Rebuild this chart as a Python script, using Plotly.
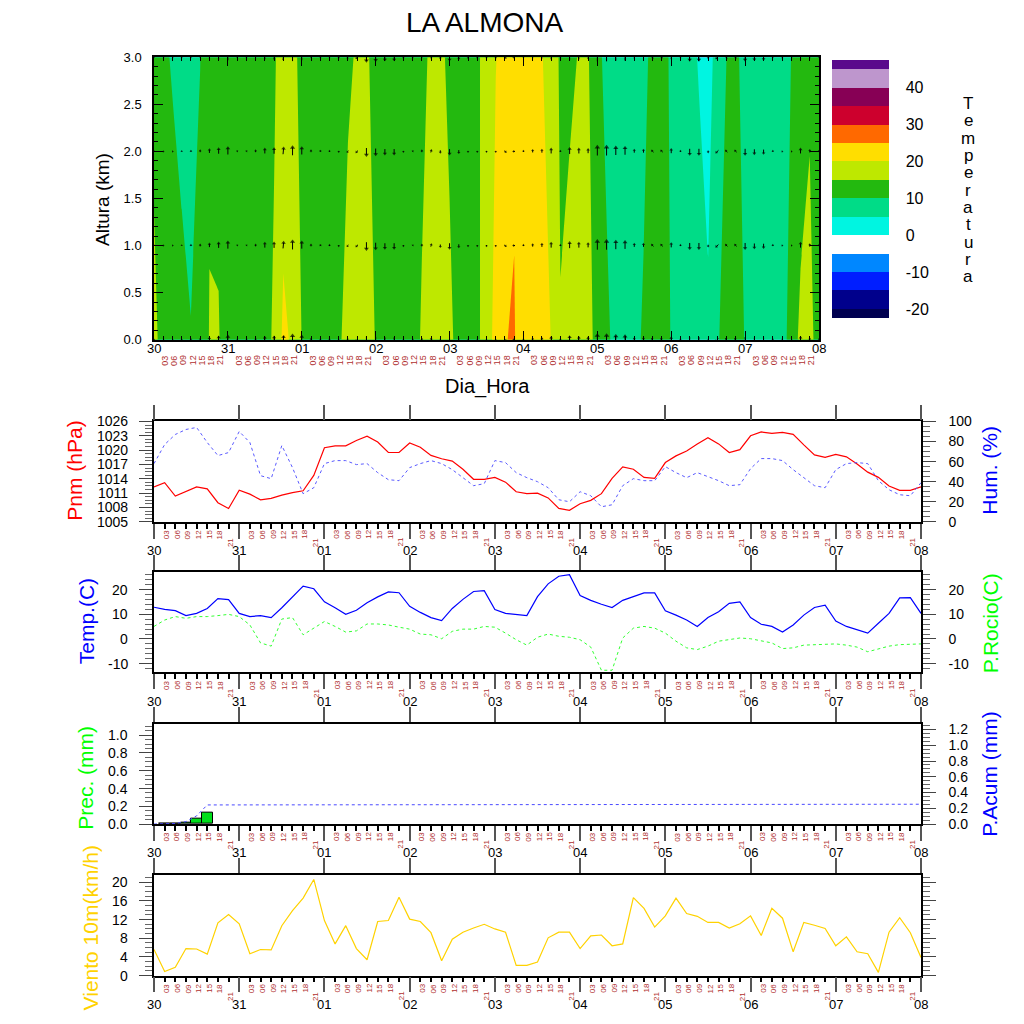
import numpy as np
import plotly.graph_objects as go

W = 1024
FONT = "Liberation Sans"

# time axis: every 3 h from day 30 00h to day 08 00h
hours = list(range(0, 217, 3))
day_labels = ["30", "31", "01", "02", "03", "04", "05", "06", "07", "08"]
hour_labels = ["03", "06", "09", "12", "15", "18", "21"]

# temperature (C) at the ground and at 3 km, read from the cross-section
heights = [0, 3]
temp_sfc = [15.5, 14.25, 13, 11.5, 10.2, 12, 15.2, 15.3, 12.3, 12,
            11.5, 12, 14, 15.43, 21.1, 19.27, 14.9, 13, 12, 13,
            14.5, 16.17, 17, 16, 14.89, 13, 12, 12.5, 14.2, 15.2,
            16.5, 17, 15.5, 14.25, 13, 14.5, 16.17, 22.55, 24.79, 25.5,
            20.5, 21.5, 21, 19.95, 15.16, 16, 16.5, 15.8, 14.2, 11.5,
            7.75, 8, 9, 10.43, 11.5, 11, 9.89, 8.5, 8, 7.5,
            5.5, 9.5, 12, 11.5, 9.83, 8.5, 8, 8.5, 7.33, 12.67,
            16, 16.5, 12.75]
temp_top = [14.4, 11, 9.5, 8.26, 7.8, 9.9, 14.4, 13.57, 12, 11.5,
            11, 12, 13.5, 14.65, 16.4, 16, 14, 12.5, 11.5, 12.5,
            13.5, 14.5, 15.33, 15.3, 14.3, 12.5, 11.5, 12, 13.5, 14.5,
            15.33, 15.5, 14.5, 13.5, 12.5, 14.5, 16.2, 19.8, 22, 23.83,
            22.5, 21, 20.3, 17.3, 14.43, 14.5, 15.125, 15.3, 12, 8,
            7, 7, 8, 9, 11, 10.5, 9.79, 8, 6.5, 4.625,
            3.78, 6.22, 10.05, 11, 8.14, 7, 6.5, 7, 8.5, 10.05,
            12, 14.19, 13]

# wind vectors drawn at these heights (km)
vec_levels = [0, 1, 2, 3]
wind_u = [0, 0.5, 0.5, 0, 0, 0, 0, 0, 0, 0.5,
          0.5, 0, 0, 0, 0.5, 0, 0, 0, 0.5, 0,
          0, -1, -1.5, 0, 0, 0, 0, 0, 0.5, 0,
          0.5, 0, 0, 0, 0, 0, 0, 0, 1.5, -1.5,
          0, 0, 0, 0, 0, 0, 0, 0, 0, 0,
          0, 0, 0, 0, -1.5, -1.5, 0, 0, 0, 0,
          0, -2, -1.5, -1.5, 0, 0, 0, 0, 0.5, 0.5,
          0, 0, 0]
wind_v = [0.5, 0, 0, 0.5, 1, 1.5, 3, 4.5, 6, 0.5,
          0.5, 1.5, 4, 4.5, 5.5, 7.5, 6, 1.5, 1, 1,
          -1, -1, -1.5, -6.5, -5.5, -4.5, -4.5, -1, 0.5, 1.5,
          2, -2, -4.5, -2.5, -1, -1, -1, -1, -1, 0,
          1, 2, 2.5, 4, 1, 5, 4, 3.5, 8, 8,
          7, 6.5, 2.5, 2.5, 1.5, 1.5, 3.5, 1, -5, -5,
          -1.5, -2, 1.5, 1.5, -5, -4, -3.5, 1, 0, 0,
          4, 2, 1]

pnm = [1012.3, 1013.2, 1010.4, 1011.4, 1012.3, 1011.9, 1009.0, 1007.8, 1011.6, 1010.8,
       1009.6, 1009.9, 1010.6, 1011.1, 1011.5, 1014.7, 1020.5, 1020.9, 1020.9, 1022.0,
       1022.9, 1021.7, 1019.5, 1019.5, 1021.5, 1020.6, 1018.9, 1018.2, 1017.7, 1016.0,
       1013.9, 1013.9, 1014.3, 1013.3, 1011.3, 1010.9, 1011.0, 1010.0, 1007.8, 1007.4,
       1008.8, 1009.5, 1010.9, 1014.1, 1016.5, 1016.0, 1014.3, 1014.1, 1017.4, 1018.8,
       1019.8, 1021.3, 1022.6, 1021.3, 1019.5, 1020.1, 1023.0, 1023.8, 1023.5, 1023.7,
       1023.3, 1021.1, 1019.0, 1018.5, 1019.1, 1018.6, 1017.1, 1015.4, 1014.3, 1012.5,
       1011.6, 1011.6, 1012.3]
hum = [58, 77, 87, 92, 94, 79, 66, 69, 90, 79,
       46, 43, 76, 54, 28, 34, 58, 61, 61, 57,
       58, 49, 42, 41, 54, 58, 61, 58, 52, 44,
       36, 38, 61, 59, 49, 44, 40, 34, 22, 20,
       30, 26, 15, 17, 36, 43, 41, 41, 55, 49,
       44, 49, 45, 41, 36, 37, 53, 63, 63, 61,
       52, 44, 36, 34, 52, 58, 59, 58, 41, 32,
       27, 26, 39]
temp2m = [12.9, 12.0, 11.5, 9.5, 10.4, 12.4, 16.4, 16.0, 10.4, 9.1,
          9.5, 8.7, 12.7, 17.1, 21.5, 20.4, 15.1, 12.7, 10.0, 11.7,
          14.7, 17.1, 19.1, 18.8, 13.3, 10.8, 8.7, 7.5, 12.4, 16.1,
          19.3, 19.6, 12.0, 10.4, 10.0, 9.5, 17.2, 22.4, 25.5, 26.1,
          17.7, 15.7, 14.1, 12.8, 15.7, 17.2, 18.7, 18.7, 11.5, 9.7,
          7.7, 5.1, 8.7, 11.1, 14.5, 15.1, 8.7, 6.0, 5.1, 2.8,
          5.7, 9.7, 12.8, 13.7, 7.3, 5.1, 3.7, 2.4, 6.4, 10.4,
          16.7, 16.8, 10.4]
rocio = [5.1, 7.7, 9.1, 8.4, 9.1, 9.1, 9.5, 10.0, 9.1, 5.7,
         -1.6, -2.9, 8.1, 8.7, 1.7, 4.4, 7.1, 5.1, 2.8, 3.3,
         6.1, 6.1, 5.7, 4.8, 4.0, 2.0, 1.7, 0.1, 3.1, 4.0,
         4.0, 5.1, 4.8, 2.4, -0.3, -2.5, 0.7, 2.0, 1.1, 0.7,
         -0.3, -3.3, -12.7, -12.7, 0.4, 4.4, 5.1, 4.4, 2.4, -0.9,
         -3.6, -4.3, -2.9, -0.9, -0.3, 0.4, 0.1, -0.7, -1.6, -3.9,
         -3.6, -2.5, -2.3, -2.0, -2.0, -2.5, -3.3, -5.2, -3.9, -2.9,
         -2.3, -2.0, -2.0]
prec = [0, 0.002, 0.005, 0.02, 0.065, 0.13, 0, 0, 0, 0,
        0, 0, 0, 0, 0, 0, 0, 0, 0, 0,
        0, 0, 0, 0, 0, 0, 0, 0, 0, 0,
        0, 0, 0, 0, 0, 0, 0, 0, 0, 0,
        0, 0, 0, 0, 0, 0, 0, 0, 0, 0,
        0, 0, 0, 0, 0, 0, 0, 0, 0, 0,
        0, 0, 0, 0, 0, 0, 0, 0, 0, 0,
        0, 0, 0]
prec_acum = [0, 0.002, 0.007, 0.027, 0.092, 0.215, 0.215, 0.215, 0.215, 0.215,
             0.215, 0.215, 0.215, 0.215, 0.215, 0.215, 0.216, 0.216, 0.216, 0.216,
             0.216, 0.216, 0.216, 0.216, 0.216, 0.217, 0.217, 0.217, 0.217, 0.217,
             0.217, 0.217, 0.217, 0.218, 0.218, 0.218, 0.218, 0.218, 0.218, 0.218,
             0.218, 0.219, 0.219, 0.219, 0.219, 0.219, 0.219, 0.219, 0.22, 0.22,
             0.22, 0.22, 0.22, 0.22, 0.22, 0.22, 0.221, 0.221, 0.221, 0.221,
             0.221, 0.221, 0.222, 0.222, 0.222, 0.222, 0.222, 0.222, 0.223, 0.223,
             0.223, 0.223, 0.223]
viento = [5.6, 0.9, 1.8, 5.8, 5.7, 4.6, 11.3, 13.1, 11.1, 4.7,
          5.6, 5.5, 10.7, 13.9, 16.6, 20.6, 11.8, 6.8, 10.7, 5.8,
          3.4, 11.6, 11.8, 16.8, 12.1, 11.6, 9.2, 3.2, 7.8, 9.3,
          10.2, 11.0, 10.0, 9.3, 2.2, 2.2, 2.9, 8.1, 9.3, 9.3,
          5.8, 8.5, 8.7, 6.4, 6.8, 16.7, 14.4, 10.4, 12.8, 16.6,
          13.3, 12.7, 11.4, 11.4, 10.2, 11.1, 12.8, 8.6, 14.4, 12.3,
          5.1, 11.4, 10.8, 10.1, 6.4, 8.3, 5.1, 4.7, 0.7, 9.3,
          12.4, 9.2, 3.9]

temp_colors = ["#000050", "#00008c", "#001eff", "#0087ff", "#ffffff",
               "#00f5e1", "#00dc87", "#23b90f", "#bee800", "#ffde00",
               "#ff6900", "#cd002d", "#870055", "#be96cd", "#5a0a8c"]
cbar_ticks = [-20, -10, 0, 10, 20, 30, 40]
temp_ticks = [-10, 0, 10, 20]

# left-axis tick labels of the four lower panels
pnm_ticks = [1005, 1008, 1011, 1014, 1017, 1020, 1023, 1026]
prec_ticks = ["0.0", "0.2", "0.4", "0.6", "0.8", "1.0"]
wind_ticks = [0, 4, 8, 12, 16, 20]

# panel boxes in pixels: left, right, top, bottom
P1 = (154, 819, 50, 337)
LOW = [(154, 921, 420, 522), (154, 921, 573, 675),
       (154, 921, 727, 829), (154, 921, 881, 983)]


def fx(p):
    return p / W


def fy(p):
    return 1 - p / W


def hyphen(vals):
    # NCL prints a plain hyphen for negatives
    return [str(v) for v in vals]


fig = go.Figure()

# ---- cross-section -------------------------------------------------------
cscale = [[i / (len(temp_colors) - 1), c] for i, c in enumerate(temp_colors)]
fig.add_trace(go.Contour(
    x=hours, y=heights, z=[temp_sfc, temp_top],
    autocontour=False,
    contours=dict(start=-20, end=45, size=5, coloring="fill", showlines=False),
    line=dict(width=0, smoothing=0),
    colorscale=cscale,
    colorbar=dict(x=fx(832), xanchor="left", y=fy(184), yanchor="middle",
                  len=262 / W, thickness=57, xpad=0, ypad=0, outlinewidth=0,
                  tickmode="array", tickvals=cbar_ticks, ticktext=hyphen(cbar_ticks),
                  ticks="outside", ticklen=14, tickcolor="rgba(0,0,0,0)",
                  tickfont=dict(family=FONT, size=16, color="black")),
    xaxis="x", yaxis="y", hoverinfo="skip"))

# wind arrows, centred on each grid point
sx = (P1[1] - P1[0]) / 216.0
sy = (P1[3] - P1[2]) / 3.0
vscale = 1.05
shaft_x, shaft_y, head_x, head_y, head_ang, head_size = [], [], [], [], [], []
for z in vec_levels:
    for t, u, v in zip(hours, wind_u, wind_v):
        du = 0.5 * u * vscale / sx
        dv = 0.5 * v * vscale / sy
        shaft_x += [t - du, t + du, None]
        shaft_y += [z - dv, z + dv, None]
        head_x.append(t + du)
        head_y.append(z + dv)
        spd = float(np.hypot(u, v))
        head_ang.append(float(np.degrees(np.arctan2(u, v))))
        head_size.append(2.0 + 0.35 * spd)
fig.add_trace(go.Scatter(x=shaft_x, y=shaft_y, mode="lines",
                         line=dict(color="black", width=1),
                         xaxis="x", yaxis="y", hoverinfo="skip"))
fig.add_trace(go.Scatter(x=head_x, y=head_y, mode="markers",
                         marker=dict(symbol="triangle-up", size=head_size,
                                     angle=head_ang, color="black", line=dict(width=0)),
                         xaxis="x", yaxis="y", hoverinfo="skip"))

# ---- meteogram panels ------------------------------------------------------
dash = "3px,3px"
fig.add_trace(go.Scatter(x=hours, y=pnm, mode="lines", line=dict(color="#ff0000", width=1.2),
                         xaxis="x2", yaxis="y2"))
fig.add_trace(go.Scatter(x=hours, y=hum, mode="lines",
                         line=dict(color="#5a5aff", width=1, dash=dash),
                         xaxis="x2", yaxis="y3"))
fig.add_trace(go.Scatter(x=hours, y=temp2m, mode="lines", line=dict(color="#0000ff", width=1.2),
                         xaxis="x3", yaxis="y4"))
fig.add_trace(go.Scatter(x=hours, y=rocio, mode="lines",
                         line=dict(color="#33ff33", width=1, dash=dash),
                         xaxis="x3", yaxis="y5"))
wet = [(t, p) for t, p in zip(hours, prec) if p > 0]
fig.add_trace(go.Bar(x=[t for t, _ in wet], y=[p for _, p in wet], width=3,
                     marker=dict(color="#00e01c", line=dict(color="black", width=1)),
                     xaxis="x4", yaxis="y6"))
fig.add_trace(go.Scatter(x=hours, y=prec_acum, mode="lines",
                         line=dict(color="#4a4aff", width=1, dash=dash),
                         xaxis="x4", yaxis="y6"))
fig.add_trace(go.Scatter(x=[None], y=[None], xaxis="x4", yaxis="y7"))
fig.add_trace(go.Scatter(x=hours, y=viento, mode="lines", line=dict(color="#ffd200", width=1.2),
                         xaxis="x5", yaxis="y8"))

tick_font = dict(family=FONT, size=14, color="black")
day_ticks = list(range(0, 217, 24))

layout = dict(
    width=W, height=W, margin=dict(l=0, r=0, t=0, b=0), autosize=False,
    paper_bgcolor="white", plot_bgcolor="white", showlegend=False,
    bargap=0,
    xaxis=dict(domain=[fx(P1[0]), fx(P1[1])], range=[0, 216], anchor="y",
               tickvals=day_ticks, showticklabels=False, ticks="inside", ticklen=9,
               tickcolor="black", minor=dict(tick0=0, dtick=3, ticks="inside", ticklen=4,
                                             tickcolor="black"),
               showline=True, linecolor="black", linewidth=1.5, mirror="ticks",
               showgrid=False, zeroline=False),
    yaxis=dict(domain=[fy(P1[3]), fy(P1[2])], range=[0, 3], anchor="x",
               dtick=0.5, tickformat=".1f", ticks="inside", ticklen=9, tickcolor="black",
               minor=dict(dtick=0.1, ticks="inside", ticklen=4, tickcolor="black"),
               tickfont=dict(family=FONT, size=13, color="black"), ticklabelstandoff=8,
               showline=True, linecolor="black", linewidth=1.5, mirror="ticks",
               showgrid=False, zeroline=False),
)

low_y = [
    # (left range, dtick, minor, right range, right dtick, right minor, right format)
    ([1005, 1026], 3, 0.75, [0, 100], 20, 5, "d"),
    ([-13.6, 27.2], 10, 2, [-13.6, 27.2], 10, 2, "d"),
    ([0, 1.13], 0.2, 0.05, [0, 1.275], 0.2, 0.05, ".1f"),
    ([0, 21.5], 4, 1, None, None, None, None),
]
yleft = ["y2", "y4", "y6", "y8"]
yright = ["y3", "y5", "y7", None]
for k, (box, spec) in enumerate(zip(LOW, low_y)):
    xn = "x%d" % (k + 2)
    lr, ld, lm, rr, rd, rm, rf = spec
    layout["xaxis%d" % (k + 2)] = dict(
        domain=[fx(box[0]), fx(box[1])], range=[0, 216], anchor=yleft[k],
        tickvals=day_ticks, showticklabels=False, ticks="outside", ticklen=15,
        tickwidth=1.5, tickcolor="#555555",
        minor=dict(tick0=0, dtick=3, ticks="outside", ticklen=5, tickcolor="black"),
        showline=True, linecolor="black", linewidth=1.5,
        showgrid=False, zeroline=False)
    # separate top axis: day ticks only
    layout["xaxis%d" % (k + 12)] = dict(
        overlaying=xn, side="top", anchor=yleft[k], range=[0, 216],
        tickvals=day_ticks, showticklabels=False, ticks="outside", ticklen=15,
        tickwidth=1.5, tickcolor="#555555",
        showline=True, linecolor="black", linewidth=1.5,
        showgrid=False, zeroline=False)
    fig.add_trace(go.Scatter(x=[None], y=[None], xaxis="x%d" % (k + 12), yaxis=yleft[k]))
    left = dict(domain=[fy(box[3]), fy(box[2])], range=lr, anchor=xn, dtick=ld,
                showticklabels=False, ticks="outside", ticklen=13, tickcolor="#444444",
                minor=dict(dtick=lm, ticks="outside", ticklen=7, tickcolor="#666666"),
                showline=True, linecolor="black", linewidth=1.5,
                showgrid=False, zeroline=False)
    if rr is None:
        left["mirror"] = "ticks"
    layout["yaxis" + yleft[k][1:]] = left
    if rr is not None:
        right = dict(
            overlaying=yleft[k], side="right", anchor=xn, range=rr, dtick=rd,
            tickformat=rf, ticks="outside", ticklen=13, tickcolor="#444444",
            minor=dict(dtick=rm, ticks="outside", ticklen=7, tickcolor="#666666"),
            tickfont=tick_font, ticklabelstandoff=10,
            showline=True, linecolor="black", linewidth=1.5,
            showgrid=False, zeroline=False)
        if k == 1:
            right.update(tickmode="array", tickvals=temp_ticks, ticktext=hyphen(temp_ticks))
        layout["yaxis" + yright[k][1:]] = right

fig.update_layout(**layout)

# ---- texts -------------------------------------------------------------
ann = []


def text(x, y, s, size, color="black", angle=0, xref="paper", yref="paper",
         xanchor="center", **kw):
    ann.append(dict(x=x, y=y, xref=xref, yref=yref, text=s, showarrow=False,
                    textangle=angle, font=dict(family=FONT, size=size, color=color),
                    xanchor=xanchor, yanchor="middle", **kw))


text(fx(485), fy(15), "LA ALMONA", 28)
text(fx(487), fy(384), "Dia_Hora", 20)
text(fx(103), fy(195), "Altura (km)", 19, angle=-90)
for i, ch in enumerate("Temperatura"):
    text(fx(968), fy(97 + i * 17.6), ch, 17)

text(fx(75), fy(470), "Pnm (hPa)", 21, "#ff0000", -90)
text(fx(990), fy(470), "Hum. (%)", 21, "#0000ff", -90)
text(fx(86), fy(623), "Temp.(C)", 21, "#0000ff", -90)
text(fx(990), fy(625), "P.Rocio(C)", 21, "#00ff00", -90)
text(fx(86), fy(782), "Prec. (mm)", 21, "#00ff00", -90)
text(fx(990), fy(778), "P.Acum (mm)", 21, "#0000ff", -90)
text(fx(90), fy(935), "Viento 10m(km/h)", 21, "#ffd200", -90)

# left tick labels of the lower panels, placed on each panel's own y scale
left_labels = [
    (pnm_ticks, [str(v) for v in pnm_ticks]),
    (temp_ticks, hyphen(temp_ticks)),
    ([float(s) for s in prec_ticks], prec_ticks),
    (wind_ticks, [str(v) for v in wind_ticks]),
]
for k, (vals, labs) in enumerate(left_labels):
    for v, s in zip(vals, labs):
        text(fx(130), v, s, 14, yref=yleft[k], xanchor="right")

hour_red = "#b03030"
# top panel axis labels
for d, lab in enumerate(day_labels):
    text(24 * d, fy(P1[3] + 9), lab, 13, xref="x")
    if d < 9:
        for j, h in enumerate(hour_labels):
            text(24 * d + 3 * (j + 1), fy(P1[3] + 21), h, 9, hour_red, -90, xref="x",
                 xshift=2)
# lower panels
for k, box in enumerate(LOW):
    xr = "x%d" % (k + 2)
    for d, lab in enumerate(day_labels):
        text(24 * d, fy(box[3] + 29), lab, 13, xref=xr)
        if d < 9:
            for j, h in enumerate(hour_labels):
                off = 21 if h == "21" else 13
                text(24 * d + 3 * (j + 1), fy(box[3] + off), h, 8, hour_red, -90,
                     xref=xr, xshift=2)

fig.update_layout(annotations=ann)
fig.write_html("out.html", config={"displayModeBar": False},
               post_script="document.body.style.margin='0px';")
